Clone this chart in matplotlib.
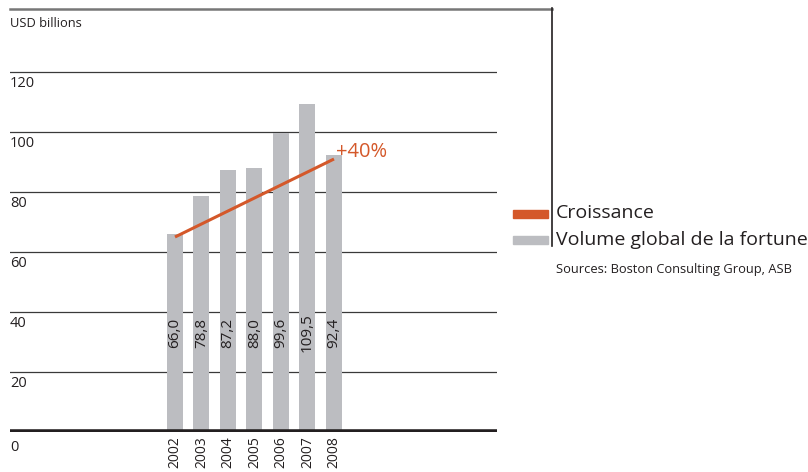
import matplotlib.pyplot as plt
from matplotlib.lines import Line2D
from matplotlib.patches import Rectangle

plt.rcParams['font.family'] = ['Open Sans', 'DejaVu Sans']

years = ['2002', '2003', '2004', '2005', '2006', '2007', '2008']
volume = [66.0, 78.8, 87.2, 88.0, 99.6, 109.5, 92.4]
labels = ['66,0', '78,8', '87,2', '88,0', '99,6', '109,5', '92,4']
growth_start = 65.0
growth_end = 91.0
yticks = [0, 20, 40, 60, 80, 100, 120]

bar_col = '#bcbdc1'
orange = '#d4582a'
W, H = 808, 472

fig = plt.figure(figsize=(W / 100, H / 100), dpi=100)
# axes from x=10px to 497px, y baseline at 432px, top at 8px
ax = fig.add_axes([10 / W, (H - 432) / H, 487 / W, 424 / H])
px = 26.5  # pixels per bar slot
ax.set_xlim((10 - 175) / px, (497 - 175) / px)
ax.set_ylim(0, 424 / 3.0)
for s in ax.spines.values():
    s.set_visible(False)
ax.set_xticks([])
ax.set_yticks([])

x = list(range(len(years)))
for t in yticks[1:]:
    ax.axhline(t, color='#3a3a3a', lw=0.9, zorder=1)
ax.bar(x, volume, width=16 / px, color=bar_col, zorder=2)
ax.axhline(0, color='#231f20', lw=4, zorder=3)

ax.plot([0, len(years) - 1], [growth_start, growth_end], color=orange, lw=2.2,
        zorder=4, solid_capstyle='butt')
ax.text(len(years) - 1 + 0.08, growth_end + 2.3, '+40%', color=orange, fontsize=14.5,
        ha='left', va='center')

for i, lab in enumerate(labels):
    ax.text(i, 33, lab, rotation=90, ha='center', va='center', fontsize=11,
            color='#231f20', zorder=5)
    ax.text(i, -1.5, years[i], rotation=90, ha='center', va='top', fontsize=10,
            color='#231f20')

for t in yticks:
    off = 2.6 if t == 0 else 1.3
    ax.text((10 - 175) / px, t - off, str(t), ha='left', va='top', fontsize=10.5,
            color='#231f20')
ax.text((10 - 175) / px, 138.5, 'USD billions', ha='left', va='top', fontsize=9.3,
        color='#231f20')

# frame lines on the figure
fig.add_artist(Line2D([10 / W, 552 / W], [(H - 8.5) / H] * 2, color='#777777', lw=1.8))
fig.add_artist(Line2D([552 / W] * 2, [(H - 8) / H, (H - 246) / H], color='#231f20', lw=1.2))

# legend
fig.add_artist(Rectangle((513 / W, (H - 218) / H), 35 / W, 8 / H, color=orange))
fig.add_artist(Rectangle((513 / W, (H - 244) / H), 35 / W, 8 / H, color=bar_col))
fig.text(556 / W, (H - 213) / H, 'Croissance', fontsize=14, va='center', color='#231f20')
fig.text(556 / W, (H - 240) / H, 'Volume global de la fortune', fontsize=14, va='center',
         color='#231f20')
fig.text(556 / W, (H - 270) / H, 'Sources: Boston Consulting Group, ASB', fontsize=9.3,
         va='center', color='#231f20')

fig.savefig('out.png', dpi=100)
